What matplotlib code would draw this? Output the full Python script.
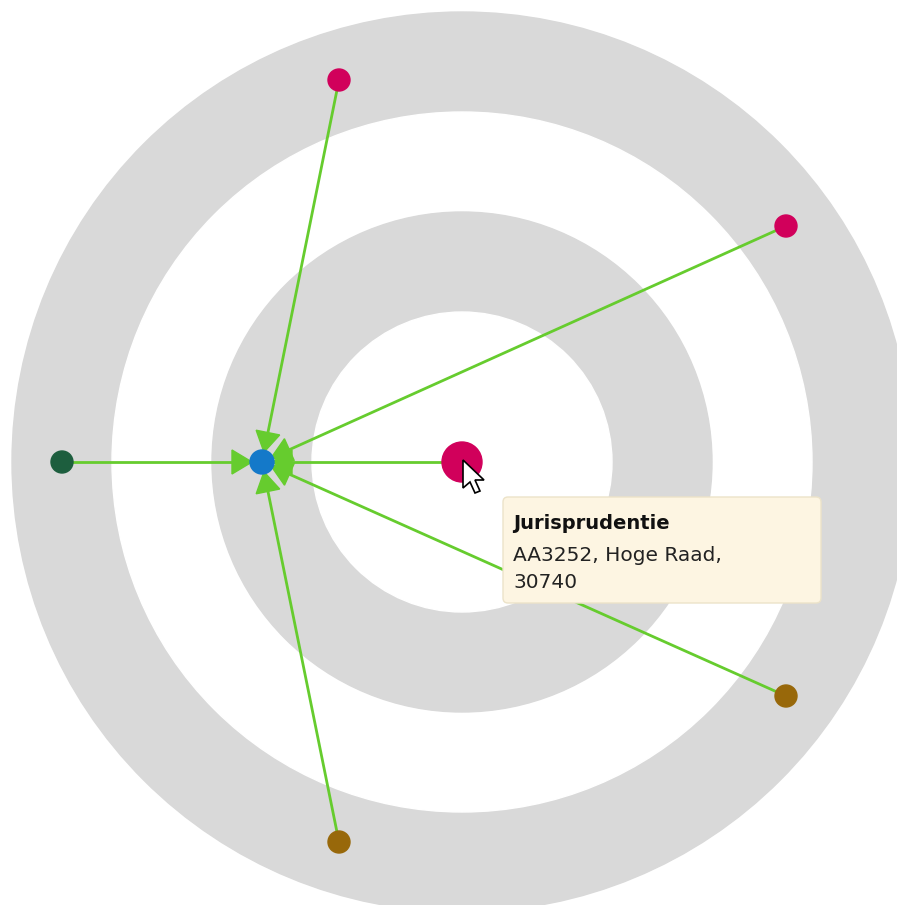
import numpy as np
import matplotlib.pyplot as plt
from matplotlib.patches import Circle, Polygon, FancyBboxPatch

# ringen (straal in pixels)
ring_radii = [450, 350, 250, 150]
ring_colors = ['#d9d9d9', 'white', '#d9d9d9', 'white']
center = (462, 462)

# knopen
hub = (262, 462)
node_x = [339, 786, 62, 462, 786, 339]
node_y = [80, 226, 462, 462, 696, 842]
node_r = [11, 11, 11, 20, 11, 11]
node_colors = ['#d1005b', '#d1005b', '#1d5e3e', '#d1005b', '#98680a', '#98680a']

edge_color = '#66cc2e'

tip_title = 'Jurisprudentie'
tip_lines = ['AA3252, Hoge Raad,', '30740']

fig = plt.figure(figsize=(8.97, 9.05), dpi=100)
ax = fig.add_axes([0, 0, 1, 1])
ax.set_xlim(0, 897)
ax.set_ylim(905, 0)
ax.set_aspect('equal')
ax.axis('off')

for r, c in zip(ring_radii, ring_colors):
    ax.add_patch(Circle(center, r, color=c, zorder=1))

# lijnen + pijlpunten richting hub
for x, y in zip(node_x, node_y):
    ax.plot([x, hub[0]], [y, hub[1]], color=edge_color, lw=2, zorder=2)
    d = np.array([hub[0] - x, hub[1] - y], dtype=float)
    d /= np.linalg.norm(d)
    n = np.array([-d[1], d[0]])
    h = np.array(hub, dtype=float)
    tip = h - d * 10
    base = h - d * 30
    tri = [tip, base + n * 12, base - n * 12]
    ax.add_patch(Polygon(tri, closed=True, color=edge_color, zorder=3))

for x, y, r, c in zip(node_x, node_y, node_r, node_colors):
    ax.add_patch(Circle((x, y), r, facecolor=c, edgecolor=c, lw=1, zorder=4))
ax.add_patch(Circle(hub, 12, facecolor='#1479c9', edgecolor='#1479c9', zorder=5))

# muiscursor
cx, cy = 463, 460
cur = np.array([[0, 0], [0, 28], [7, 22], [12, 33], [17, 31], [12, 20], [21, 20]])
ax.add_patch(Polygon(cur + [cx, cy], closed=True, facecolor='white',
                     edgecolor='black', lw=1.2, zorder=6))

# tooltip
ax.add_patch(FancyBboxPatch((503, 497), 318, 106, boxstyle='round,pad=0,rounding_size=5',
                            facecolor='#fdf5e2', edgecolor='#ece3c9', lw=1, zorder=7))
ax.text(513, 529, tip_title, fontsize=14, fontweight='bold', color='#111111',
        va='baseline', ha='left', zorder=8)
for i, yb in zip(range(len(tip_lines)), [561, 588]):
    ax.text(513, yb, tip_lines[i], fontsize=14.5, color='#222222',
            va='baseline', ha='left', zorder=8)

fig.savefig('out.png', dpi=100)
